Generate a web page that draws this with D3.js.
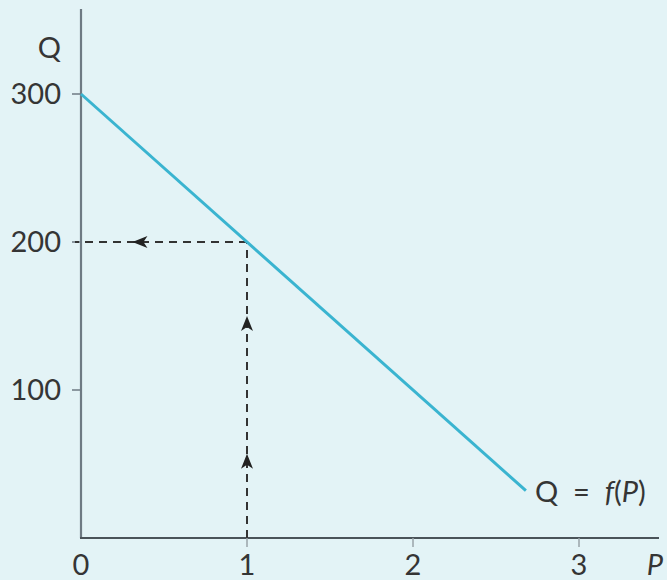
<!DOCTYPE html>
<html>
<head>
<meta charset="utf-8">
<script src="https://cdn.jsdelivr.net/npm/d3@7"></script>
<style>
  html, body { margin: 0; padding: 0; background: #e3f3f6; }
  svg { display: block; }
  text { font-family: Lato, "Open Sans", sans-serif; font-weight: 400; fill: #353535; }
</style>
</head>
<body>
<svg id="chart" width="667" height="580"></svg>
<script>
// Demand schedule Q = f(P), drawn as a straight line
const curveP = [0, 2.68];
const curveQ = [300, 32];

// Axis ticks
const pTicks = [0, 1, 2, 3];
const qTicks = [100, 200, 300];

// Reading the function: from P = 1 up to the curve, then across to Q
const readP = 1;
const readQ = 200;
// Arrowheads along the reading path: [P, Q]
const arrowsUp = [[1, 57], [1, 150]];
const arrowsLeft = [[0.31, 200]];

const svg = d3.select("#chart");
const x = d3.scaleLinear().domain([0, 3]).range([81, 579]);
const y = d3.scaleLinear().domain([0, 300]).range([538, 94]);

const axisColor = "#6e7a83";
const fontSize = 29;

// Axes lines
svg.append("line").attr("x1", x(0)).attr("x2", x(0))
  .attr("y1", 9).attr("y2", y(0))
  .attr("stroke", axisColor).attr("stroke-width", 2.2);
svg.append("line").attr("x1", x(0) - 1).attr("x2", 659)
  .attr("y1", y(0)).attr("y2", y(0))
  .attr("stroke", "#4a5359").attr("stroke-width", 2);

// Y ticks and labels
const yAxis = svg.append("g");
yAxis.selectAll("line").data(qTicks).join("line")
  .attr("x1", x(0) - 9).attr("x2", x(0))
  .attr("y1", d => y(d)).attr("y2", d => y(d))
  .attr("stroke", axisColor).attr("stroke-width", 1.5);
yAxis.selectAll("text").data(qTicks).join("text")
  .attr("x", 61).attr("y", d => y(d) + 10)
  .attr("text-anchor", "end")
  .attr("font-size", fontSize)
  .text(d => d);

// X ticks and labels
const xAxis = svg.append("g");
xAxis.selectAll("line").data(pTicks.filter(d => d > 0)).join("line")
  .attr("x1", d => x(d)).attr("x2", d => x(d))
  .attr("y1", y(0)).attr("y2", y(0) + 9)
  .attr("stroke", "#9aa3a9").attr("stroke-width", 1.5);
xAxis.selectAll("text").data(pTicks).join("text")
  .attr("x", d => x(d)).attr("y", 575)
  .attr("text-anchor", "middle")
  .attr("font-size", fontSize)
  .text(d => d);

// Axis titles
svg.append("text").attr("x", 61).attr("y", 58)
  .attr("text-anchor", "end").attr("font-size", fontSize).text("Q");
svg.append("text").attr("x", 655).attr("y", 575)
  .attr("text-anchor", "middle").attr("font-size", fontSize)
  .attr("font-style", "italic").text("P");

// Dashed reading path
const dash = svg.append("g")
  .attr("stroke", "#333").attr("stroke-width", 2)
  .attr("stroke-dasharray", "8,6").attr("fill", "none");
dash.append("line")
  .attr("x1", x(readP)).attr("x2", x(readP))
  .attr("y1", y(0)).attr("y2", y(readQ));
dash.append("line")
  .attr("x1", x(readP)).attr("x2", x(0) - 6)
  .attr("y1", y(readQ)).attr("y2", y(readQ));

// Demand line
const line = d3.line().x(d => x(d[0])).y(d => y(d[1]));
svg.append("path")
  .datum(curveP.map((p, i) => [p, curveQ[i]]))
  .attr("d", line)
  .attr("stroke", "#3ab4d0").attr("stroke-width", 3)
  .attr("fill", "none");

// Arrowhead shape: tip at origin pointing up
const headPath = "M0,0 L6,15 L0,11 L-6,15 Z";
svg.selectAll("path.up").data(arrowsUp).join("path")
  .attr("class", "up")
  .attr("d", headPath)
  .attr("transform", d => `translate(${x(d[0])},${y(d[1])})`)
  .attr("fill", "#222");
svg.selectAll("path.left").data(arrowsLeft).join("path")
  .attr("class", "left")
  .attr("d", headPath)
  .attr("transform", d => `translate(${x(d[0])},${y(d[1])}) rotate(-90)`)
  .attr("fill", "#222");

// Curve label
const lab = svg.append("text").attr("x", 535).attr("y", 502)
  .attr("font-size", fontSize).attr("xml:space", "preserve");
lab.append("tspan").text("Q  =  ");
lab.append("tspan").attr("font-style", "italic").text("f");
lab.append("tspan").text("(");
lab.append("tspan").attr("font-style", "italic").text("P");
lab.append("tspan").text(")");
</script>
</body>
</html>
